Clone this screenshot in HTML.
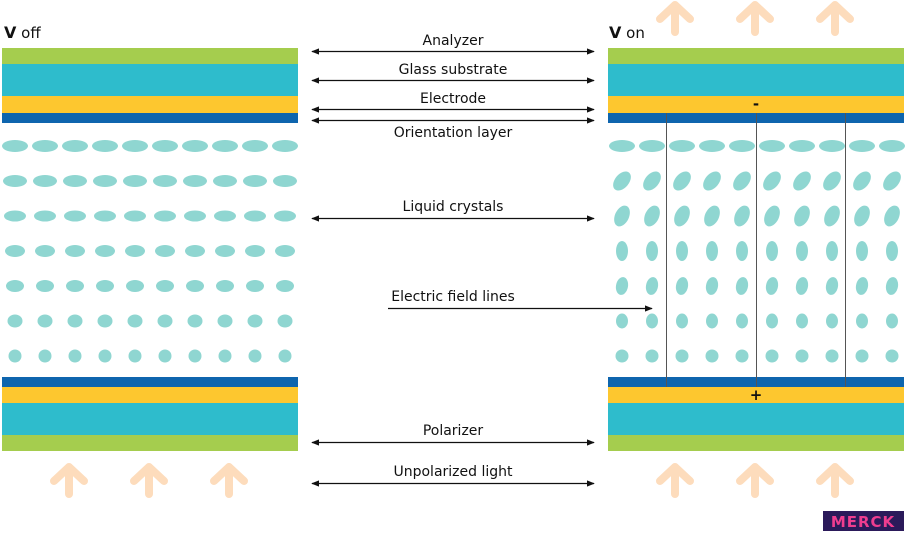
<!DOCTYPE html>
<html><head><meta charset="utf-8"><style>
html,body{margin:0;padding:0;background:#fff;}
svg{display:block;font-family:"DejaVu Sans","Liberation Sans",sans-serif;}
</style></head><body>
<svg id="s" width="908" height="534" viewBox="0 0 908 534" xmlns="http://www.w3.org/2000/svg">
<defs>
<marker id="ah" viewBox="0 0 10 10" refX="9" refY="5" markerWidth="8" markerHeight="8" orient="auto-start-reverse" markerUnits="userSpaceOnUse"><path d="M0,1 L10,5 L0,9 Z" fill="#111"/></marker>
</defs>
<!-- left panel -->
<rect x="2" y="48" width="296" height="16" fill="#a5cd4e"/>
<rect x="2" y="64" width="296" height="32" fill="#2ebccc"/>
<rect x="2" y="96" width="296" height="17" fill="#fdc72f"/>
<rect x="2" y="113" width="296" height="10" fill="#0e65ae"/>
<rect x="2" y="377" width="296" height="10" fill="#0e65ae"/>
<rect x="2" y="387" width="296" height="16" fill="#fdc72f"/>
<rect x="2" y="403" width="296" height="32" fill="#2ebccc"/>
<rect x="2" y="435" width="296" height="16" fill="#a5cd4e"/>
<!-- right panel -->
<rect x="608" y="48" width="296" height="16" fill="#a5cd4e"/>
<rect x="608" y="64" width="296" height="32" fill="#2ebccc"/>
<rect x="608" y="96" width="296" height="17" fill="#fdc72f"/>
<rect x="608" y="113" width="296" height="10" fill="#0e65ae"/>
<rect x="608" y="377" width="296" height="10" fill="#0e65ae"/>
<rect x="608" y="387" width="296" height="16" fill="#fdc72f"/>
<rect x="608" y="403" width="296" height="32" fill="#2ebccc"/>
<rect x="608" y="435" width="296" height="16" fill="#a5cd4e"/>
<g stroke="#555" stroke-width="1">
<line x1="666.5" y1="113" x2="666.5" y2="387"/>
<line x1="756.5" y1="113" x2="756.5" y2="387"/>
<line x1="845.5" y1="113" x2="845.5" y2="387"/>
</g>
<text x="756" y="109" font-size="15" font-weight="bold" text-anchor="middle" fill="#111">-</text>
<text x="756" y="400" font-size="15" font-weight="bold" text-anchor="middle" fill="#111">+</text>
<g id="ell" fill="#8fd6d1"></g>
<!-- titles -->
<text x="4" y="38" font-size="15" fill="#111"><tspan font-weight="bold" font-size="16">V</tspan> off</text>
<text x="609" y="38" font-size="15" fill="#111"><tspan font-weight="bold" font-size="16">V</tspan> on</text>
<!-- double arrows -->
<g stroke="#111" stroke-width="1.2" marker-start="url(#ah)" marker-end="url(#ah)">
<line x1="312" y1="51.5" x2="594" y2="51.5"/>
<line x1="312" y1="80.5" x2="594" y2="80.5"/>
<line x1="312" y1="109.5" x2="594" y2="109.5"/>
<line x1="312" y1="120.5" x2="594" y2="120.5"/>
<line x1="312" y1="218.5" x2="594" y2="218.5"/>
<line x1="312" y1="442.5" x2="594" y2="442.5"/>
<line x1="312" y1="483.5" x2="594" y2="483.5"/>
</g>
<line x1="388" y1="308.5" x2="652" y2="308.5" stroke="#111" stroke-width="1.2" marker-end="url(#ah)"/>
<g font-size="14" fill="#111" text-anchor="middle">
<text x="453" y="45">Analyzer</text>
<text x="453" y="74">Glass substrate</text>
<text x="453" y="103">Electrode</text>
<text x="453" y="137">Orientation layer</text>
<text x="453" y="211">Liquid crystals</text>
<text x="453" y="301">Electric field lines</text>
<text x="453" y="435">Polarizer</text>
<text x="453" y="476">Unpolarized light</text>
</g>
<g id="arr" fill="none" stroke="#fddcbc" stroke-width="8" stroke-linecap="round" stroke-linejoin="round"></g>
<rect x="823" y="511" width="81" height="20" fill="#2b1a5a"/>
<text x="863" y="527" font-size="15" font-weight="bold" fill="#ef3d8f" text-anchor="middle" letter-spacing="1">MERCK</text>
</svg>
<script>
var ns="http://www.w3.org/2000/svg",g=document.getElementById("ell"),a=document.getElementById("arr");
var rows=[146,181,216,251,286,321,356];
var L=[[13,6],[12,6],[11,5.5],[10,6],[9,6],[7.5,6.5],[6.5,6.5]];
var R=[[13,6,0],[11,7,-50],[11,7,-65],[6,10,0],[6,9,10],[6,7.5,0],[6.5,6.5,0]];
function E(cx,cy,rx,ry,rot){var e=document.createElementNS(ns,"ellipse");e.setAttribute("cx",cx);e.setAttribute("cy",cy);e.setAttribute("rx",rx);e.setAttribute("ry",ry);if(rot)e.setAttribute("transform","rotate("+rot+" "+cx+" "+cy+")");g.appendChild(e);}
for(var r=0;r<7;r++)for(var c=0;c<10;c++){E(15+30*c,rows[r],L[r][0],L[r][1],0);E(622+30*c,rows[r],R[r][0],R[r][1],R[r][2]);}
function A(x,y){var p=document.createElementNS(ns,"path");p.setAttribute("d","M"+x+","+(y+31)+" L"+x+","+(y+4)+" M"+(x-15)+","+(y+18)+" L"+x+","+(y+4)+" L"+(x+15)+","+(y+18));a.appendChild(p);}
[69,149,229].forEach(function(x){A(x,463);});
[675,755,835].forEach(function(x){A(x,463);A(x,1);});
</script>
</body></html>
